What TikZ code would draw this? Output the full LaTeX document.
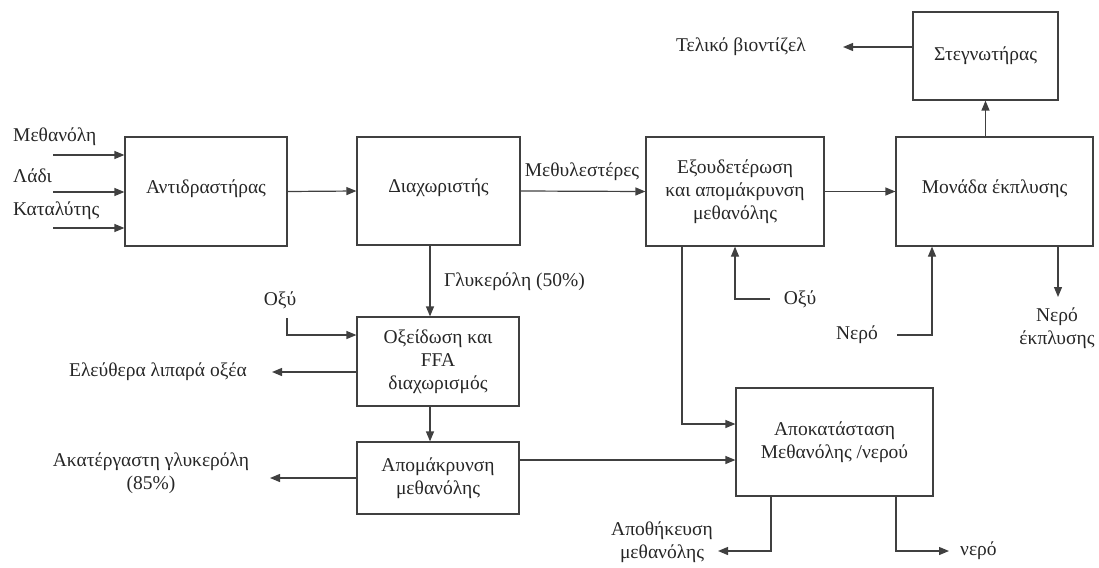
\documentclass[tikz,border=0pt]{standalone}
\usepackage{fontspec}
\setmainfont{Liberation Serif}
\usetikzlibrary{arrows.meta,calc}
\begin{document}
\begin{tikzpicture}[x=1pt,y=-1pt,
  every node/.style={font=\fontsize{19.5}{23}\selectfont, text=black!85},
  box/.style={draw=black!75, line width=1.2pt, align=center, inner sep=0pt},
  lbl/.style={align=center, inner sep=0pt},
  ln/.style={draw=black!75, line width=1.2pt},
  arr/.style={ln, -{Triangle[length=10pt,width=8pt]}}]
\useasboundingbox (0,0) rectangle (1099,567);
% boxes
\node[box, minimum width=162pt, minimum height=109pt] (react) at (206,191.5) {\raisebox{10pt}{Αντιδραστήρας}};
\node[box, minimum width=163pt, minimum height=108pt] (sep) at (438.5,191) {\raisebox{10pt}{Διαχωριστής}};
\node[box, minimum width=178pt, minimum height=109pt] (neut) at (735,191.5) {Εξουδετέρωση\\και απομάκρυνση\\μεθανόλης};
\node[box, minimum width=197pt, minimum height=109pt] (wash) at (994.5,191.5) {\raisebox{10pt}{Μονάδα έκπλυσης}};
\node[box, minimum width=145pt, minimum height=88pt] (dry) at (985.5,56) {Στεγνωτήρας};
\node[box, minimum width=162pt, minimum height=89pt] (oxid) at (438,361.5) {Οξείδωση και\\FFA\\διαχωρισμός};
\node[box, minimum width=162pt, minimum height=72pt] (mrem) at (438,478) {Απομάκρυνση\\μεθανόλης};
\node[box, minimum width=197pt, minimum height=108pt] (recov) at (834.5,442) {Αποκατάσταση\\Μεθανόλης /νερού};
% labels
\node[lbl, anchor=west] (lmeth) at (13,137) {Μεθανόλη};
\node[lbl, anchor=west] (loil) at (13,176) {Λάδι};
\node[lbl, anchor=west] (lcat) at (13,211) {Καταλύτης};
\node[lbl] (lester) at (582,172) {Μεθυλεστέρες};
\node[lbl] (lbio) at (741,47) {Τελικό βιοντίζελ};
\node[lbl, anchor=west] (lgly) at (444,282) {Γλυκερόλη (50\%)};
\node[lbl] (lacid1) at (280,300) {Οξύ};
\node[lbl] (lffa) at (158,372) {Ελεύθερα λιπαρά οξέα};
\node[lbl] (lcrude) at (151,473) {Ακατέργαστη γλυκερόλη\\(85\%)};
\node[lbl] (lacid2) at (800,299) {Οξύ};
\node[lbl] (lwater) at (857,335) {Νερό};
\node[lbl] (lwwater) at (1057,328) {Νερό\\έκπλυσης};
\node[lbl] (lstore) at (662,542) {Αποθήκευση\\μεθανόλης};
\node[lbl, anchor=west] (lwout) at (960,551) {νερό};
% coordinates
\coordinate (in1) at (53,155);
\coordinate (in2) at (53,192);
\coordinate (in3) at (53,228);
\coordinate (bio) at (843,47);
\coordinate (gx) at (430,0);
\coordinate (o1) at (287,318);
\coordinate (o1e) at (287,335);
\coordinate (ffa) at (272,372);
\coordinate (crude) at (270,478);
\coordinate (mr) at (0,460);
\coordinate (nx) at (682,424);
\coordinate (o2) at (770,299);
\coordinate (o2e) at (735,299);
\coordinate (w1) at (897,335);
\coordinate (w1e) at (932,335);
\coordinate (ww) at (1058,297);
\coordinate (st1) at (771,551);
\coordinate (st) at (718,551);
\coordinate (wo1) at (896,551);
\coordinate (wo) at (949,551);
% connectors
\draw[arr] (in1) -- (in1 -| react.west);
\draw[arr] (in2) -- (in2 -| react.west);
\draw[arr] (in3) -- (in3 -| react.west);
\draw[arr] (react.east) -- (sep.west);
\draw[arr] (sep.east) -- (neut.west);
\draw[arr] (neut.east) -- (wash.west);
\draw[arr] (dry.south |- wash.north) -- (dry.south);
\draw[arr] (dry.west |- bio) -- (bio);
\draw[arr] (sep.south -| gx) -- (oxid.north -| gx);
\draw[arr] (o1) -- (o1e) -- (o1e -| oxid.west);
\draw[arr] (oxid.west |- ffa) -- (ffa);
\draw[arr] (oxid.south -| gx) -- (mrem.north -| gx);
\draw[arr] (mrem.west |- crude) -- (crude);
\draw[arr] (mrem.east |- mr) -- (recov.west |- mr);
\draw[arr] (neut.south -| nx) -- (nx) -- (nx -| recov.west);
\draw[arr] (o2) -- (o2e) -- (o2e |- neut.south);
\draw[arr] (w1) -- (w1e) -- (w1e |- wash.south);
\draw[arr] (ww |- wash.south) -- (ww);
\draw[arr] (st1 |- recov.south) -- (st1) -- (st);
\draw[arr] (wo1 |- recov.south) -- (wo1) -- (wo);
\end{tikzpicture}
\end{document}
